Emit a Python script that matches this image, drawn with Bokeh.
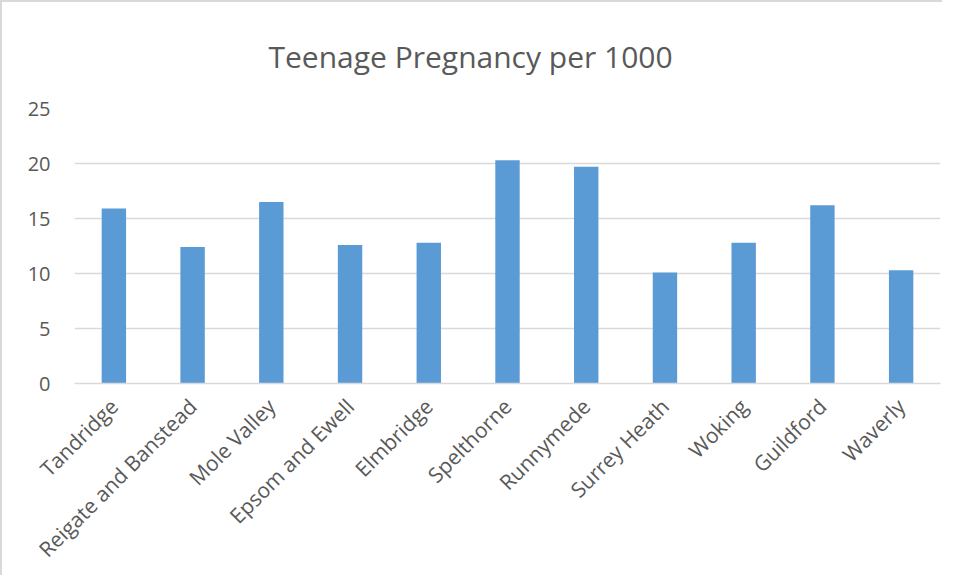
from math import pi
from bokeh.plotting import figure
from bokeh.models import ColumnDataSource, Range1d, FixedTicker, FactorRange
from bokeh.embed import file_html
from bokeh.resources import INLINE

areas = ["Tandridge", "Reigate and Banstead", "Mole Valley", "Epsom and Ewell",
         "Elmbridge", "Spelthorne", "Runnymede", "Surrey Heath", "Woking",
         "Guildford", "Waverly"]
rates = [15.9, 12.4, 16.5, 12.6, 12.8, 20.3, 19.7, 10.1, 12.8, 16.2, 10.3]
y_ticks = [0, 5, 10, 15, 20, 25]

src = ColumnDataSource(data=dict(area=areas, rate=rates))

TEXT = "#595959"
GRID = "#D9D9D9"
FONT = "Open Sans"

p = figure(x_range=FactorRange(*areas, range_padding=0), y_range=Range1d(0, 25),
           width=940, height=560, output_backend="svg", toolbar_location=None,
           title="Teenage Pregnancy per 1000",
           min_border_left=72, min_border_right=2, min_border_top=106,
           min_border_bottom=179)
p.frame_width = 866
p.frame_height = 275

p.vbar(x="area", top="rate", width=0.31, source=src,
       fill_color="#5B9BD5", line_color="#5B9BD5", line_width=0)

p.title.align = "left"
p.title.text_font = FONT
p.title.text_font_size = "30px"
p.title.text_font_style = "normal"
p.title.text_color = TEXT
p.title.standoff = 63
p.title.offset = 194

p.outline_line_color = None
p.xgrid.grid_line_color = None
p.ygrid.grid_line_color = GRID
p.ygrid.grid_line_width = 1.5
p.yaxis.ticker = FixedTicker(ticks=y_ticks)

p.yaxis.axis_line_color = None
p.yaxis.major_tick_line_color = None
p.yaxis.minor_tick_line_color = None
p.yaxis.major_label_text_font = FONT
p.yaxis.major_label_text_font_size = "20px"
p.yaxis.major_label_text_color = TEXT
p.yaxis.major_label_standoff = 18

p.xaxis.axis_line_color = GRID
p.xaxis.axis_line_width = 1.5
p.xaxis.major_tick_line_color = None
p.xaxis.minor_tick_line_color = None
p.xaxis.major_label_orientation = pi / 4
p.xaxis.major_label_text_font = FONT
p.xaxis.major_label_text_font_size = "21px"
p.xaxis.major_label_text_color = TEXT
p.xaxis.major_label_standoff = 13

p.background_fill_color = "white"
p.border_fill_color = "white"
p.styles = {"border-left": "2px solid #D9D9D9", "border-top": "2px solid #D9D9D9"}

open("out.html", "w").write(file_html(p, INLINE))
